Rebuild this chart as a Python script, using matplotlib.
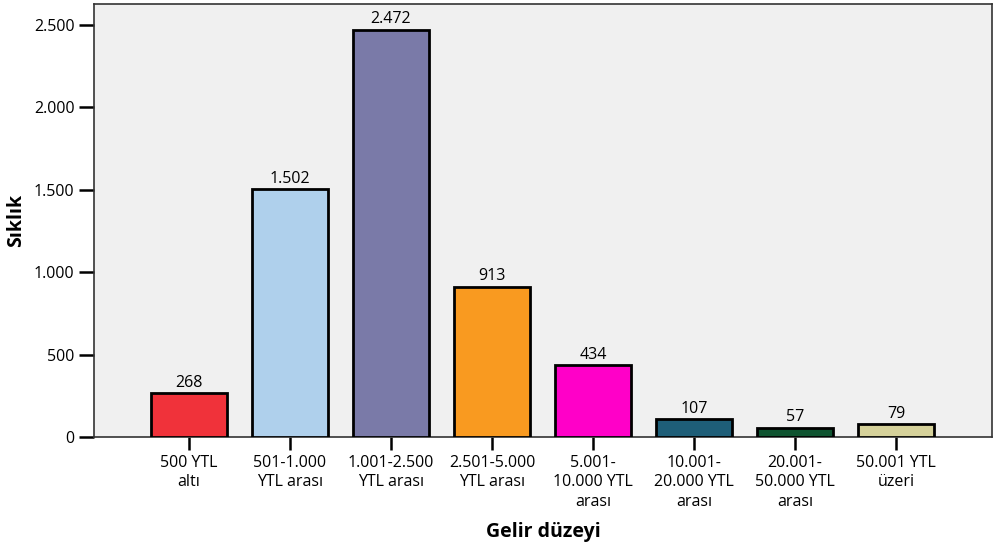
import matplotlib.pyplot as plt
from matplotlib.ticker import FuncFormatter

categories = ['500 YTL\naltı', '501-1.000\nYTL arası', '1.001-2.500\nYTL arası',
              '2.501-5.000\nYTL arası', '5.001-\n10.000 YTL\narası',
              '10.001-\n20.000 YTL\narası', '20.001-\n50.000 YTL\narası',
              '50.001 YTL\nüzeri']
counts = [268, 1502, 2472, 913, 434, 107, 57, 79]
colors = ['#f0323a', '#afd0ec', '#7a7aa8', '#f99a20', '#ff00c8',
          '#1e5e78', '#0e5430', '#d5d19a']

plt.rcParams['font.family'] = ['Open Sans', 'DejaVu Sans']


def dotted(v, pos):
    return f'{int(v):,}'.replace(',', '.')


fig = plt.figure(figsize=(9.93, 5.44), dpi=100)
ax = fig.add_axes([94 / 993, 1 - 437 / 544, (992 - 94) / 993, (437 - 4) / 544])
ax.set_facecolor('#f0f0f0')

x = range(len(counts))
bars = ax.bar(x, counts, width=0.75, color=colors, edgecolor='black', linewidth=2, zorder=3)
for b, v in zip(bars, counts):
    ax.text(b.get_x() + b.get_width() / 2, v + 14, dotted(v, None),
            ha='center', va='bottom', fontsize=11.5)

ax.set_xlim(-0.94, 7.95)
ax.set_ylim(0, 2627)
ax.set_yticks([0, 500, 1000, 1500, 2000, 2500])
ax.yaxis.set_major_formatter(FuncFormatter(dotted))
ax.set_xticks(list(x))
ax.set_xticklabels(categories, fontsize=11.5, linespacing=1.28)
ax.tick_params(axis='y', length=11, width=1.8, labelsize=11.5, pad=3)
ax.tick_params(axis='x', length=9, width=1.8, pad=4)
for s in ax.spines.values():
    s.set_linewidth(1.2)
    s.set_color('#333333')

ax.set_ylabel('Sıklık', fontsize=14, fontweight='bold', labelpad=6)
ax.set_xlabel('Gelir düzeyi', fontsize=14, fontweight='bold', labelpad=9)

fig.savefig('out.png', dpi=100)
